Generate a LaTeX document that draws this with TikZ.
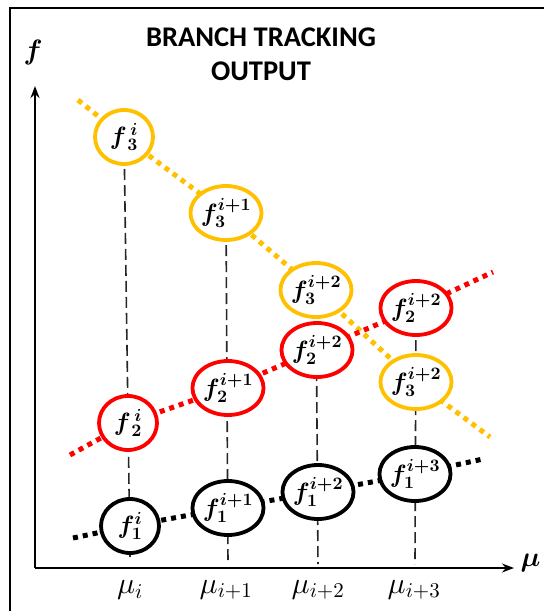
\documentclass[tikz,border=0pt]{standalone}
\usepackage{fontspec}
\usepackage{amsmath,bm}
\DeclareFontShape{OML}{cmm}{m}{it}{<->cmmi10}{}
\DeclareFontShape{OML}{cmm}{b}{it}{<->cmmib10}{}
\DeclareFontShape{OT1}{cmr}{m}{n}{<->cmr10}{}
\DeclareFontShape{OT1}{cmr}{bx}{n}{<->cmbx10}{}
\DeclareFontShape{OMS}{cmsy}{m}{n}{<->cmsy10}{}
\DeclareFontShape{OMS}{cmsy}{b}{n}{<->cmbsy10}{}
\newfontfamily\calibri{Carlito}
\usetikzlibrary{shapes.geometric,arrows.meta}
\definecolor{gold}{HTML}{FFC000}
\definecolor{redb}{HTML}{FF0000}
\tikzset{
  bub/.style={ellipse,draw,line width=3.8pt,fill=white,minimum width=58pt,minimum height=54pt,inner sep=0pt,font=\fontsize{25}{27}\selectfont},
  ybub/.style={bub,draw=gold},
  rbub/.style={bub,draw=redb},
  kbub/.style={bub,draw=black},
  dotl/.style={line width=5pt,dash pattern=on 5pt off 5pt},
  vdash/.style={line width=1.6pt,draw=black!85,dash pattern=on 11pt off 5pt},
  axis/.style={line width=2pt,-{Stealth[length=12pt,width=9pt]}},
  mulab/.style={font=\fontsize{30}{32}\selectfont}
}
\begin{document}
\begin{tikzpicture}[x=1pt,y=-1pt]
\useasboundingbox (0,0) rectangle (544,611);
% frame
\draw[line width=2pt] (10,611) -- (10,8) -- (544,8);
% title
\node[font=\calibri\bfseries\fontsize{28.5}{34}\selectfont,align=center] (title) at (261,54) {BRANCH TRACKING\\OUTPUT};
% axes
\coordinate (o) at (35,568);
\coordinate (yt) at (35,86);
\coordinate (xt) at (514,568);
\draw[axis] (o) -- (yt);
\draw[axis] (o) -- (xt);
\node[font=\fontsize{28}{30}\selectfont] (flab) at (33,52) {$\bm{f}$};
\node[font=\fontsize{28}{30}\selectfont,anchor=east] (mulabel) at (544,563) {$\bm{\mu}$};
% x labels
\node[mulab] (m1) at (130,590) {$\mu_i$};
\node[mulab] (m2) at (226,590) {$\mu_{i+1}$};
\node[mulab] (m3) at (318,590) {$\mu_{i+2}$};
\node[mulab] (m4) at (414,590) {$\mu_{i+3}$};
% node positions
\coordinate (Y1) at (124,137);
\coordinate (Y2) at (226,213);
\coordinate (Y3) at (316,290);
\coordinate (Y4) at (416,382);
\coordinate (R1) at (128,423);
\coordinate (R2) at (228,388);
\coordinate (R3) at (317,350);
\coordinate (R4) at (416,308);
\coordinate (K1) at (130,526);
\coordinate (K2) at (228,508);
\coordinate (K3) at (318,492);
\coordinate (K4) at (415,474);
% bottoms of dashed lines
\coordinate (b1) at (130,557);
\coordinate (b2) at (228,564);
\coordinate (b3) at (318,564);
\coordinate (b4) at (415,564);
% branch line ends
\coordinate (ys) at (78,100);
\coordinate (ye) at (490,437);
\coordinate (rs) at (70,455);
\coordinate (re) at (493,272);
\coordinate (ks) at (73,538);
\coordinate (ke) at (483,459);
% dotted branch lines
\draw[dotl,draw=gold] (ys) -- (Y1) -- (Y2) -- (Y3) -- (Y4) -- (ye);
\draw[dotl,draw=redb] (rs) -- (R1) -- (R2) -- (R3) -- (R4) -- (re);
\draw[dotl,draw=black] (ks) -- (K1) -- (K2) -- (K3) -- (K4) -- (ke);
% dashed verticals
\draw[vdash] (Y1) -- (b1);
\draw[vdash] (Y2) -- (b2);
\draw[vdash] (Y3) -- (b3);
\draw[vdash] (R4) -- (b4);
% bubbles
\node[ybub] (y3a) at (Y1) {$\bm{f_{\,3}^{\,i}}$};
\node[ybub] (y3b) at (Y2) {$\bm{f_3^{i+1}}$};
\node[ybub] (y3c) at (Y3) {$\bm{f_3^{i+2}}$};
\node[ybub] (y3d) at (Y4) {$\bm{f_3^{i+2}}$};
\node[rbub] (r2a) at (R1) {$\bm{f_{\,2}^{\,i}}$};
\node[rbub] (r2b) at (R2) {$\bm{f_2^{i+1}}$};
\node[rbub] (r2c) at (R3) {$\bm{f_2^{i+2}}$};
\node[rbub] (r2d) at (R4) {$\bm{f_2^{i+2}}$};
\node[kbub] (k1a) at (K1) {$\bm{f_1^{i}}$};
\node[kbub] (k1b) at (K2) {$\bm{f_1^{i+1}}$};
\node[kbub] (k1c) at (K3) {$\bm{f_1^{i+2}}$};
\node[kbub] (k1d) at (K4) {$\bm{f_1^{i+3}}$};
\end{tikzpicture}
\end{document}
